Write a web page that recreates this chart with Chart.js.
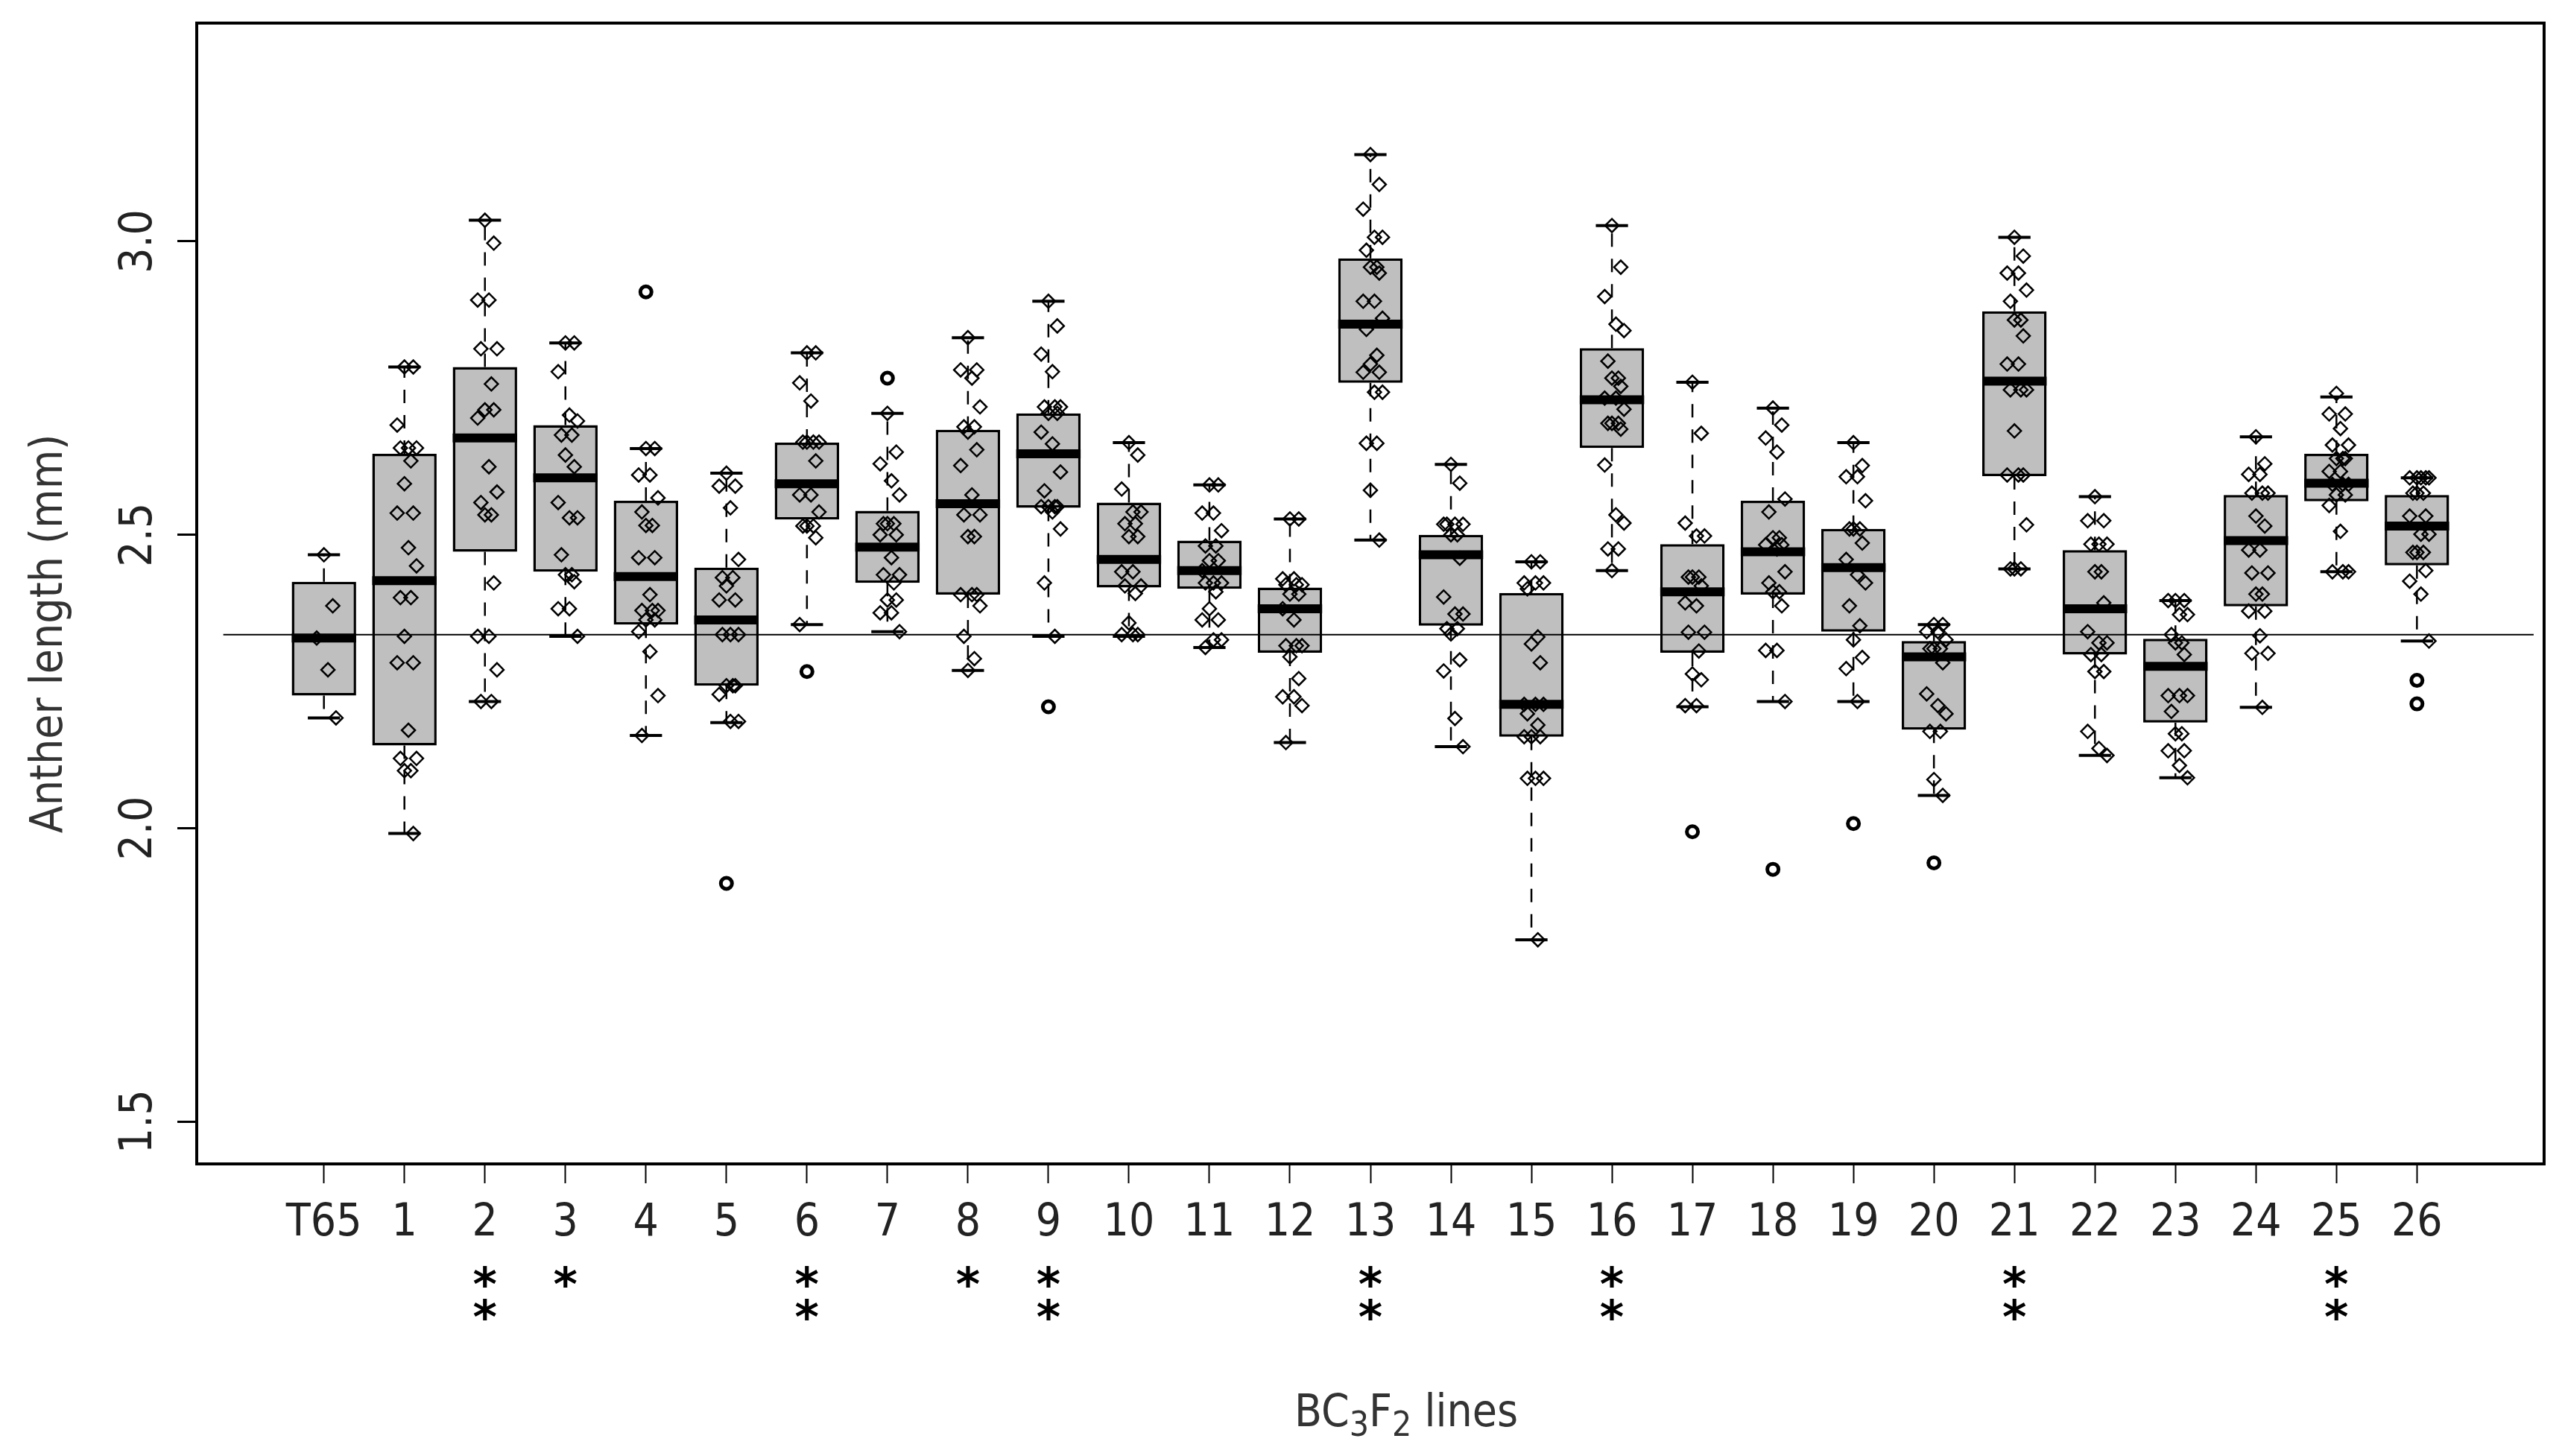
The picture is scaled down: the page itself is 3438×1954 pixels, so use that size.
<!DOCTYPE html>
<html>
<head>
<meta charset="utf-8">
<script src="https://cdn.jsdelivr.net/npm/chart.js@4.4.1/dist/chart.umd.min.js"></script>
<style>
  html, body { margin: 0; padding: 0; background: #fff; }
  #wrap { width: 3438px; height: 1954px; }
</style>
</head>
<body>
<div id="wrap"><canvas id="antherChart" width="3438" height="1954"></canvas></div>
<script>
// BC3F2 lines, anther length (mm)
const lines = ['T65', '1', '2', '3', '4', '5', '6', '7', '8', '9', '10', '11', '12', '13',
  '14', '15', '16', '17', '18', '19', '20', '21', '22', '23', '24', '25', '26'];
const stars = ['', '', '**', '*', '', '', '**', '', '*', '**', '', '', '', '**',
  '', '', '**', '', '', '', '', '**', '', '', '', '**', ''];

// box statistics
const whiskerLow = [2.188, 1.991, 2.216, 2.327, 2.158, 2.180, 2.347, 2.335, 2.269, 2.327, 2.327, 2.308, 2.146, 2.491,
  2.139, 1.810, 2.439, 2.207, 2.216, 2.216, 2.056, 2.442, 2.124, 2.086, 2.206, 2.437, 2.319];
const q1 = [2.226, 2.141, 2.471, 2.437, 2.347, 2.243, 2.526, 2.418, 2.398, 2.546, 2.410, 2.408, 2.299, 2.759,
  2.345, 2.156, 2.648, 2.299, 2.398, 2.335, 2.168, 2.600, 2.296, 2.180, 2.378, 2.557, 2.448];
const median = [2.324, 2.422, 2.665, 2.597, 2.429, 2.355, 2.587, 2.479, 2.553, 2.638, 2.458, 2.439, 2.374, 2.859,
  2.466, 2.211, 2.730, 2.403, 2.471, 2.444, 2.292, 2.762, 2.374, 2.276, 2.490, 2.588, 2.515];
const q3 = [2.420, 2.638, 2.786, 2.687, 2.558, 2.444, 2.657, 2.541, 2.679, 2.707, 2.555, 2.490, 2.410, 2.971,
  2.500, 2.401, 2.818, 2.484, 2.558, 2.510, 2.319, 2.881, 2.474, 2.323, 2.568, 2.638, 2.568];
const whiskerHigh = [2.466, 2.786, 3.036, 2.827, 2.647, 2.605, 2.810, 2.707, 2.836, 2.898, 2.657, 2.585, 2.527, 3.148,
  2.620, 2.454, 3.027, 2.760, 2.716, 2.657, 2.347, 3.007, 2.565, 2.388, 2.667, 2.735, 2.597];

const outlierLine = ['4', '5', '6', '7', '9', '17', '18', '19', '20', '26', '26'];
const outlierValue = [2.914, 1.906, 2.267, 2.767, 2.207, 1.994, 1.930, 2.008, 1.941, 2.252, 2.212];

// individual measurements per line (same order as lines)
const points = [
  [2.466, 2.379, 2.324, 2.270, 2.188],
  [2.786, 2.786, 2.687, 2.648, 2.648, 2.648, 2.626, 2.587, 2.537, 2.537, 2.478, 2.447, 2.393, 2.393, 2.327, 2.282, 2.282, 2.167, 2.119, 2.119, 2.098, 2.098, 1.991],
  [3.036, 2.997, 2.900, 2.900, 2.817, 2.817, 2.757, 2.713, 2.713, 2.699, 2.616, 2.573, 2.555, 2.534, 2.534, 2.418, 2.327, 2.327, 2.270, 2.216, 2.216],
  [2.827, 2.827, 2.778, 2.704, 2.694, 2.670, 2.670, 2.636, 2.616, 2.555, 2.529, 2.529, 2.466, 2.432, 2.432, 2.420, 2.374, 2.374, 2.327],
  [2.647, 2.647, 2.602, 2.602, 2.563, 2.539, 2.516, 2.516, 2.461, 2.461, 2.398, 2.371, 2.371, 2.371, 2.355, 2.355, 2.335, 2.301, 2.226, 2.158],
  [2.605, 2.583, 2.583, 2.546, 2.458, 2.427, 2.427, 2.413, 2.389, 2.389, 2.330, 2.330, 2.330, 2.243, 2.243, 2.243, 2.228, 2.182, 2.182],
  [2.810, 2.810, 2.759, 2.728, 2.658, 2.658, 2.658, 2.658, 2.626, 2.568, 2.568, 2.539, 2.515, 2.515, 2.515, 2.495, 2.347],
  [2.707, 2.641, 2.621, 2.592, 2.568, 2.519, 2.519, 2.519, 2.500, 2.500, 2.461, 2.432, 2.432, 2.418, 2.389, 2.389, 2.367, 2.367, 2.335],
  [2.836, 2.781, 2.781, 2.767, 2.718, 2.684, 2.684, 2.675, 2.645, 2.618, 2.568, 2.534, 2.534, 2.497, 2.497, 2.398, 2.398, 2.398, 2.379, 2.327, 2.289, 2.269],
  [2.898, 2.856, 2.808, 2.778, 2.718, 2.718, 2.718, 2.707, 2.707, 2.675, 2.655, 2.607, 2.575, 2.548, 2.548, 2.548, 2.548, 2.539, 2.510, 2.418, 2.327],
  [2.657, 2.636, 2.578, 2.539, 2.539, 2.519, 2.519, 2.497, 2.497, 2.437, 2.437, 2.413, 2.413, 2.400, 2.350, 2.330, 2.330, 2.330],
  [2.585, 2.585, 2.537, 2.537, 2.507, 2.481, 2.481, 2.456, 2.456, 2.439, 2.418, 2.418, 2.418, 2.403, 2.374, 2.355, 2.355, 2.321, 2.321, 2.308],
  [2.527, 2.527, 2.425, 2.425, 2.415, 2.415, 2.415, 2.399, 2.399, 2.374, 2.355, 2.311, 2.311, 2.311, 2.292, 2.255, 2.224, 2.224, 2.209, 2.146],
  [3.148, 3.097, 3.055, 3.007, 3.007, 2.985, 2.956, 2.956, 2.946, 2.898, 2.898, 2.869, 2.850, 2.806, 2.791, 2.777, 2.777, 2.743, 2.743, 2.656, 2.656, 2.576, 2.491],
  [2.620, 2.588, 2.518, 2.518, 2.518, 2.518, 2.500, 2.500, 2.460, 2.394, 2.365, 2.365, 2.340, 2.340, 2.331, 2.287, 2.268, 2.187, 2.139],
  [2.454, 2.454, 2.418, 2.418, 2.418, 2.408, 2.326, 2.314, 2.282, 2.211, 2.211, 2.211, 2.195, 2.176, 2.156, 2.156, 2.156, 2.085, 2.085, 2.085, 1.810],
  [3.027, 2.956, 2.906, 2.859, 2.848, 2.796, 2.767, 2.767, 2.753, 2.733, 2.733, 2.714, 2.690, 2.690, 2.690, 2.680, 2.619, 2.534, 2.520, 2.476, 2.476, 2.439],
  [2.760, 2.673, 2.520, 2.498, 2.498, 2.428, 2.428, 2.428, 2.413, 2.384, 2.379, 2.334, 2.334, 2.302, 2.263, 2.253, 2.209, 2.209],
  [2.716, 2.687, 2.665, 2.641, 2.561, 2.539, 2.495, 2.495, 2.483, 2.483, 2.476, 2.437, 2.418, 2.403, 2.403, 2.379, 2.303, 2.303, 2.216],
  [2.657, 2.618, 2.599, 2.599, 2.558, 2.510, 2.510, 2.510, 2.486, 2.458, 2.432, 2.418, 2.379, 2.345, 2.321, 2.291, 2.272, 2.216],
  [2.347, 2.347, 2.335, 2.335, 2.321, 2.306, 2.306, 2.306, 2.282, 2.229, 2.209, 2.195, 2.165, 2.165, 2.083, 2.056],
  [3.007, 2.975, 2.946, 2.946, 2.917, 2.898, 2.866, 2.866, 2.839, 2.791, 2.791, 2.747, 2.747, 2.747, 2.677, 2.602, 2.602, 2.602, 2.517, 2.442, 2.442, 2.442],
  [2.565, 2.524, 2.524, 2.484, 2.484, 2.484, 2.437, 2.437, 2.384, 2.335, 2.316, 2.316, 2.296, 2.296, 2.267, 2.267, 2.165, 2.136, 2.124],
  [2.388, 2.388, 2.388, 2.364, 2.364, 2.330, 2.316, 2.316, 2.296, 2.226, 2.226, 2.226, 2.199, 2.161, 2.161, 2.132, 2.132, 2.107, 2.086],
  [2.667, 2.621, 2.603, 2.603, 2.571, 2.571, 2.571, 2.532, 2.515, 2.474, 2.474, 2.435, 2.435, 2.399, 2.399, 2.370, 2.370, 2.328, 2.298, 2.298, 2.206],
  [2.741, 2.706, 2.706, 2.681, 2.653, 2.653, 2.630, 2.630, 2.630, 2.608, 2.608, 2.586, 2.586, 2.586, 2.568, 2.568, 2.550, 2.506, 2.437, 2.437, 2.437],
  [2.597, 2.597, 2.597, 2.597, 2.597, 2.571, 2.571, 2.571, 2.532, 2.532, 2.501, 2.501, 2.470, 2.470, 2.470, 2.439, 2.421, 2.399, 2.319]
];

const yTicks = [1.5, 2.0, 2.5, 3.0];
const refLength = 2.33;

const FONT = '"DejaVu Sans Condensed", "DejaVu Sans", sans-serif';
// small horizontal offsets so equal values don't sit on top of each other
const jitterSteps = [0, 0.11, -0.09, 0.05, 0.15, -0.05, 0.08];

const diamondPts = [];
points.forEach((vals, g) => {
  vals.forEach((v, k) => diamondPts.push({ x: g + 1 + jitterSteps[k % jitterSteps.length], y: v }));
});
const outlierPts = outlierLine.map((name, i) => ({ x: lines.indexOf(name) + 1, y: outlierValue[i] }));

// whiskers, staples and medians, drawn right after the boxes
const boxParts = {
  id: 'boxParts',
  afterDatasetDraw(chart, args) {
    if (args.index !== 0) return;
    const { ctx, scales: { x, y } } = chart;
    const half = x.getPixelForValue(1.4) - x.getPixelForValue(1);
    ctx.save();
    ctx.strokeStyle = '#000';
    ctx.lineCap = 'butt';
    lines.forEach((l, i) => {
      const px = x.getPixelForValue(i + 1);
      // dashed whiskers
      ctx.lineWidth = 2.5;
      ctx.setLineDash([18, 16]);
      ctx.beginPath();
      ctx.moveTo(px, y.getPixelForValue(q3[i]));
      ctx.lineTo(px, y.getPixelForValue(whiskerHigh[i]));
      ctx.moveTo(px, y.getPixelForValue(q1[i]));
      ctx.lineTo(px, y.getPixelForValue(whiskerLow[i]));
      ctx.stroke();
      ctx.setLineDash([]);
      // staples
      ctx.lineWidth = 4;
      ctx.beginPath();
      ctx.moveTo(px - half / 2, y.getPixelForValue(whiskerHigh[i]));
      ctx.lineTo(px + half / 2, y.getPixelForValue(whiskerHigh[i]));
      ctx.moveTo(px - half / 2, y.getPixelForValue(whiskerLow[i]));
      ctx.lineTo(px + half / 2, y.getPixelForValue(whiskerLow[i]));
      ctx.stroke();
      // median
      ctx.lineWidth = 12;
      ctx.beginPath();
      ctx.moveTo(px - half, y.getPixelForValue(median[i]));
      ctx.lineTo(px + half, y.getPixelForValue(median[i]));
      ctx.stroke();
    });
    ctx.restore();
  }
};

// frame, rotated y labels, axis titles and significance stars
const texts = {
  id: 'texts',
  afterDraw(chart) {
    const { ctx, chartArea: a, scales: { x, y } } = chart;
    ctx.save();
    ctx.strokeStyle = '#000';
    ctx.lineWidth = 4;
    ctx.strokeRect(a.left, a.top, a.right - a.left, a.bottom - a.top);

    ctx.fillStyle = '#222';
    ctx.font = '60px ' + FONT;
    ctx.textAlign = 'center';
    ctx.textBaseline = 'alphabetic';
    yTicks.forEach(v => {
      ctx.save();
      ctx.translate(a.left - 61, y.getPixelForValue(v));
      ctx.rotate(-Math.PI / 2);
      ctx.fillText(v.toFixed(1), 0, 0);
      ctx.restore();
    });

    ctx.fillStyle = '#333';
    ctx.save();
    ctx.translate(a.left - 181, (a.top + a.bottom) / 2 + 54);
    ctx.rotate(-Math.PI / 2);
    ctx.fillText('Anther length (mm)', 0, 0);
    ctx.restore();

    // BC3F2 lines with subscripts
    const parts = [
      { t: 'BC', size: 60, dy: 0 }, { t: '3', size: 46, dy: 13 },
      { t: 'F', size: 60, dy: 0 }, { t: '2', size: 46, dy: 13 },
      { t: ' lines', size: 60, dy: 0 }
    ];
    let total = 0;
    parts.forEach(p => { ctx.font = p.size + 'px ' + FONT; p.w = ctx.measureText(p.t).width; total += p.w; });
    let cx = (a.left + a.right) / 2 + 48 - total / 2;
    const base = a.bottom + 352;
    ctx.textAlign = 'left';
    parts.forEach(p => {
      ctx.font = p.size + 'px ' + FONT;
      ctx.fillText(p.t, cx, base + p.dy);
      cx += p.w;
    });

    ctx.fillStyle = '#000';
    ctx.font = 'bold 62px "DejaVu Sans", sans-serif';
    ctx.textAlign = 'center';
    const m = ctx.measureText('*');
    const off = (m.actualBoundingBoxAscent - m.actualBoundingBoxDescent) / 2;
    const rows = [a.bottom + 151, a.bottom + 195];
    stars.forEach((s, i) => {
      const px = x.getPixelForValue(i + 1);
      for (let r = 0; r < s.length; r++) ctx.fillText('*', px, rows[r] + off);
    });
    ctx.restore();
  }
};

const ctx = document.getElementById('antherChart').getContext('2d');
const antherChart = new Chart(ctx, {
  type: 'bar',
  data: {
    datasets: [
      {
        type: 'bar',
        data: lines.map((l, i) => ({ x: i + 1, y: [q1[i], q3[i]] })),
        backgroundColor: '#bfbfbf',
        borderColor: '#000',
        borderWidth: 3.5,
        borderSkipped: false,
        categoryPercentage: 0.8,
        barPercentage: 1,
        order: 3
      },
      {
        type: 'line',
        data: [{ x: -0.25, y: refLength }, { x: 28.45, y: refLength }],
        borderColor: '#000',
        borderWidth: 2,
        pointRadius: 0,
        order: 2
      },
      {
        type: 'scatter',
        data: outlierPts,
        pointStyle: 'circle',
        pointRadius: 7.5,
        borderWidth: 5,
        borderColor: '#000',
        backgroundColor: 'rgba(0,0,0,0)',
        order: 1
      },
      {
        type: 'scatter',
        data: diamondPts,
        pointStyle: 'rectRot',
        pointRadius: 9,
        borderWidth: 2.5,
        borderColor: '#000',
        backgroundColor: 'rgba(0,0,0,0)',
        order: 0
      }
    ]
  },
  options: {
    responsive: false,
    animation: false,
    devicePixelRatio: 1,
    layout: { padding: { top: 31, right: 24, left: 0, bottom: 0 } },
    plugins: {
      legend: { display: false },
      tooltip: { enabled: false }
    },
    scales: {
      x: {
        type: 'linear',
        offset: false,
        min: -0.58,
        max: 28.58,
        afterBuildTicks: s => { s.ticks = lines.map((l, i) => ({ value: i + 1 })); },
        afterFit: s => { s.height = 392; },
        ticks: {
          autoSkip: false,
          minRotation: 0,
          maxRotation: 0,
          padding: 18,
          color: '#222',
          font: { family: FONT, size: 60 },
          callback: v => lines[v - 1]
        },
        grid: { offset: false, drawOnChartArea: false, tickLength: 26, tickWidth: 2, tickColor: '#000' },
        border: { display: false }
      },
      y: {
        type: 'linear',
        min: 1.428,
        max: 3.372,
        afterBuildTicks: s => { s.ticks = yTicks.map(v => ({ value: v })); },
        afterFit: s => { s.width = 264; },
        ticks: { display: false },
        grid: { drawOnChartArea: false, tickLength: 26, tickWidth: 3, tickColor: '#000' },
        border: { display: false }
      }
    }
  },
  plugins: [boxParts, texts]
});
</script>
</body>
</html>
